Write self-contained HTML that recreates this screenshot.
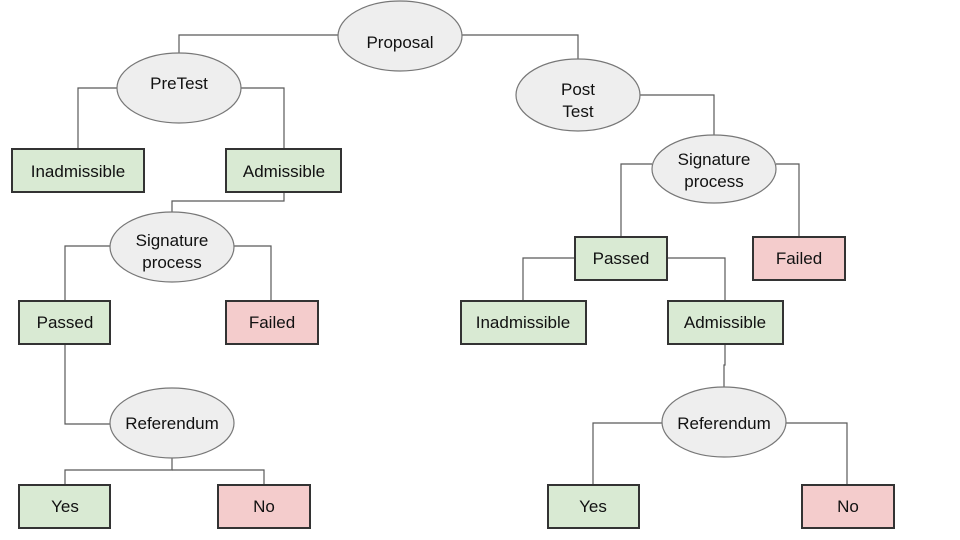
<!DOCTYPE html>
<html><head><meta charset="utf-8"><style>body{margin:0;background:#fff}svg{display:block}text{font-family:"Liberation Sans",Arial,sans-serif;font-size:17px;fill:#111;text-anchor:middle}</style></head><body>
<svg width="960" height="540" viewBox="0 0 960 540">
<g fill="none" stroke="#595959" stroke-width="1.2">
<polyline points="339,35 179,35 179,53"/>
<polyline points="462,35 578,35 578,60"/>
<polyline points="117,88 78,88 78,149"/>
<polyline points="241,88 284,88 284,149"/>
<polyline points="284,192 284,201 172,201 172,212"/>
<polyline points="110,246 65,246 65,301"/>
<polyline points="234,246 271,246 271,301"/>
<polyline points="65,344 65,424 110,424"/>
<polyline points="172,458 172,470 65,470 65,485"/>
<polyline points="172,470 264,470 264,485"/>
<polyline points="640,95 714,95 714,135"/>
<polyline points="652,164 621,164 621,237"/>
<polyline points="776,164 799,164 799,237"/>
<polyline points="575,258 523,258 523,301"/>
<polyline points="667,258 725,258 725,301"/>
<polyline points="725,344 725,365 724,365 724,387"/>
<polyline points="662,423 593,423 593,485"/>
<polyline points="786,423 847,423 847,485"/>
</g>
<g fill="#eeeeee" stroke="#777" stroke-width="1.2">
<ellipse cx="400" cy="36" rx="62" ry="35"/>
<ellipse cx="179" cy="88" rx="62" ry="35"/>
<ellipse cx="578" cy="95" rx="62" ry="36"/>
<ellipse cx="172" cy="247" rx="62" ry="35"/>
<ellipse cx="714" cy="169" rx="62" ry="34"/>
<ellipse cx="172" cy="423" rx="62" ry="35"/>
<ellipse cx="724" cy="422" rx="62" ry="35"/>
</g>
<g stroke="#333" stroke-width="2">
<rect x="12" y="149" width="132" height="43" fill="#d9ead3"/>
<rect x="226" y="149" width="115" height="43" fill="#d9ead3"/>
<rect x="19" y="301" width="91" height="43" fill="#d9ead3"/>
<rect x="226" y="301" width="92" height="43" fill="#f4cccc"/>
<rect x="19" y="485" width="91" height="43" fill="#d9ead3"/>
<rect x="218" y="485" width="92" height="43" fill="#f4cccc"/>
<rect x="575" y="237" width="92" height="43" fill="#d9ead3"/>
<rect x="753" y="237" width="92" height="43" fill="#f4cccc"/>
<rect x="461" y="301" width="125" height="43" fill="#d9ead3"/>
<rect x="668" y="301" width="115" height="43" fill="#d9ead3"/>
<rect x="548" y="485" width="91" height="43" fill="#d9ead3"/>
<rect x="802" y="485" width="92" height="43" fill="#f4cccc"/>
</g>
<text x="400" y="48">Proposal</text>
<text x="179" y="89">PreTest</text>
<text x="578" y="95">Post</text><text x="578" y="117">Test</text>
<text x="172" y="246">Signature</text><text x="172" y="268">process</text>
<text x="714" y="165">Signature</text><text x="714" y="187">process</text>
<text x="172" y="429">Referendum</text>
<text x="724" y="429">Referendum</text>
<text x="78" y="177">Inadmissible</text>
<text x="284" y="177">Admissible</text>
<text x="65" y="328">Passed</text>
<text x="272" y="328">Failed</text>
<text x="65" y="512">Yes</text>
<text x="264" y="512">No</text>
<text x="621" y="264">Passed</text>
<text x="799" y="264">Failed</text>
<text x="523" y="328">Inadmissible</text>
<text x="725" y="328">Admissible</text>
<text x="593" y="512">Yes</text>
<text x="848" y="512">No</text>
</svg>
</body></html>
